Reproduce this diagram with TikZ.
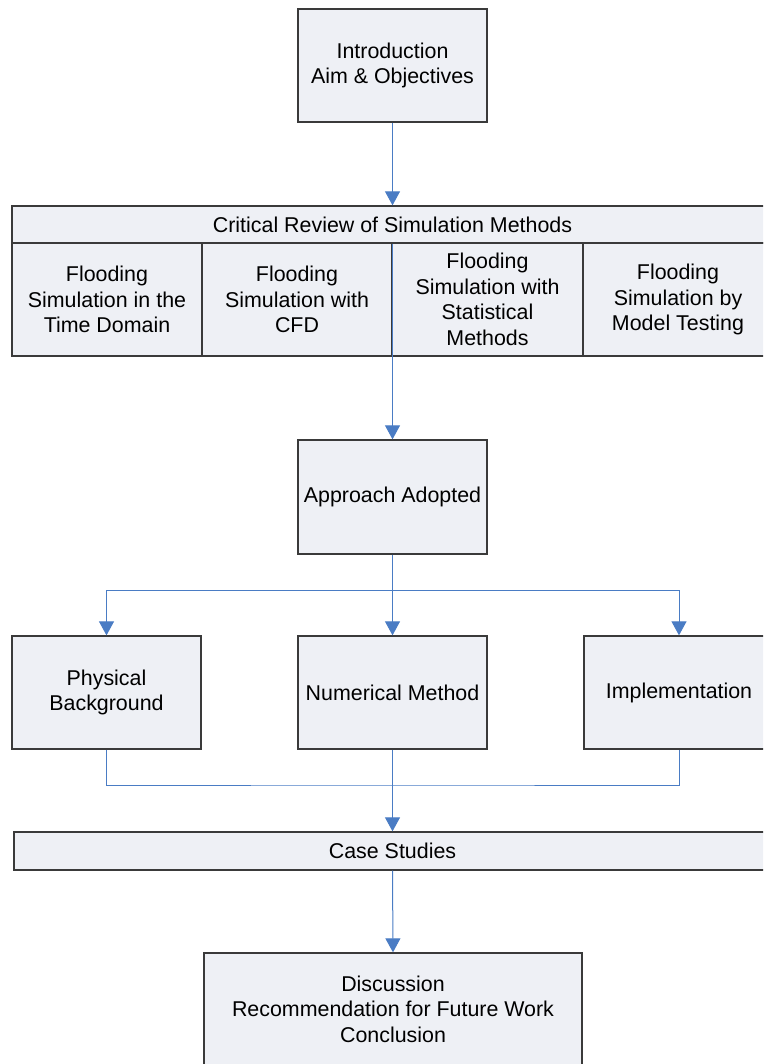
\documentclass[tikz,border=0pt]{standalone}
\usepackage{fontspec}
\setmainfont{Liberation Sans}
\usetikzlibrary{arrows.meta}
\definecolor{boxfill}{HTML}{EEF0F5}
\definecolor{boxline}{HTML}{3A3A3A}
\definecolor{flow}{HTML}{4A7CC4}
\tikzset{
  blk/.style={draw=boxline, line width=1.3pt, fill=boxfill, rectangle, align=center,
    inner sep=0pt, font=\fontsize{21.4}{25.5}\selectfont},
  conn/.style={draw=flow, line width=1pt},
  arr/.style={conn, -{Triangle[width=15pt,length=14pt]}}
}
\begin{document}
\begin{tikzpicture}[x=1pt,y=-1pt]
\useasboundingbox (0,0) rectangle (763,1064);
\clip (0,0) rectangle (763,1064);

% top box
\node[blk, minimum width=189pt, minimum height=113pt] (intro) at (392.5,65.5)
  {Introduction\\Aim \& Objectives};

% review banner and the four methods beneath it
\node[blk, minimum width=761pt, minimum height=37pt] (review) at (392.5,224.5)
  {Critical Review of Simulation Methods};
\node[blk, minimum width=190pt, minimum height=113pt] (m1) at (107,299.5)
  {Flooding\\Simulation in the\\Time Domain};
\node[blk, minimum width=190pt, minimum height=113pt] (m2) at (297,299.5)
  {Flooding\\Simulation with\\CFD};
\node[blk, minimum width=191pt, minimum height=113pt] (m3) at (487.5,299.5)
  {Flooding\\Simulation with\\Statistical\\Methods};
\node[blk, minimum width=190pt, minimum height=113pt] (m4) at (678,299.5)
  {Flooding\\Simulation by\\Model Testing};

% approach
\node[blk, minimum width=189pt, minimum height=114pt] (appr) at (392.5,497)
  {Approach Adopted};

% three work packages
\node[blk, minimum width=189pt, minimum height=113pt] (phys) at (106.5,692.5)
  {Physical\\Background};
\node[blk, minimum width=189pt, minimum height=113pt] (num) at (392.5,692.5)
  {Numerical Method};
\node[blk, minimum width=190pt, minimum height=113pt] (impl) at (679,692.5)
  {Implementation};

% case studies banner
\node[blk, minimum width=757pt, minimum height=38pt] (case) at (392.5,851)
  {Case Studies};

% closing box
\node[blk, minimum width=378pt, minimum height=112pt] (disc) at (393,1009)
  {Discussion\\Recommendation for Future Work\\Conclusion};

% connectors
\draw[arr] (intro.south) -- (review.north);
\draw[arr] (review.south) -- (appr.north);

\coordinate (split) at (392.5,590);
\draw[conn] (appr.south) -- (split);
\draw[arr] (split) -| (phys.north);
\draw[arr] (split) -| (impl.north);
\draw[arr] (split) -- (num.north);

\coordinate (join) at (392.5,785);
\draw[conn] (phys.south) |- (join) -| (impl.south);
\draw[arr] (num.south) -- (case.north);

\draw[arr] (case.south) -- (disc.north);
\end{tikzpicture}
\end{document}
